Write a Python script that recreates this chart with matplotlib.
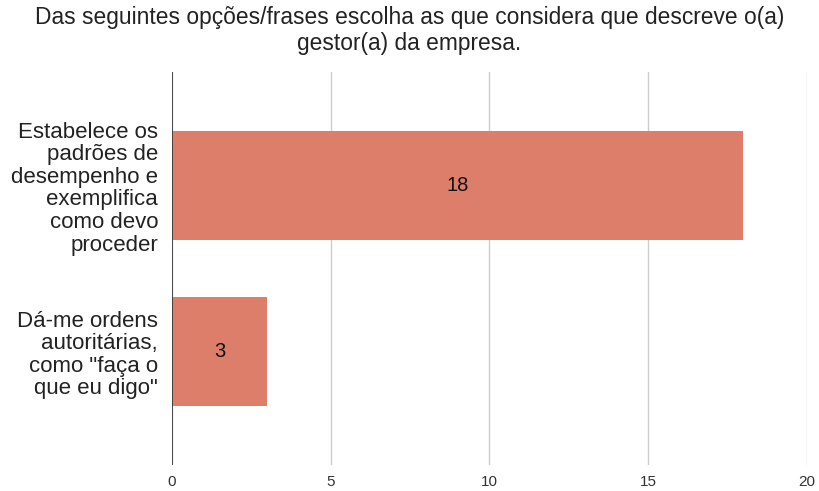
import matplotlib.pyplot as plt

plt.rcParams['font.family'] = ['Liberation Sans', 'DejaVu Sans']

categories = ['Estabelece os\npadrões de\ndesempenho e\nexemplifica\ncomo devo\nproceder',
              'Dá-me ordens\nautoritárias,\ncomo "faça o\nque eu digo"']
counts = [18, 3]
xticks = [0, 5, 10, 15, 20]
title = 'Das seguintes opções/frases escolha as que considera que descreve o(a)\ngestor(a) da empresa.'

fig = plt.figure(figsize=(8.19, 4.91), dpi=100)
ax = fig.add_axes([0.210, 0.053, 0.7753, 0.800])

pos = list(range(len(categories)))
ax.barh(pos, counts, height=0.655, color='#dd7e6b', zorder=3)
for p, v in zip(pos, counts):
    ax.text(v / 2, p, str(v), ha='center', va='center', fontsize=14.5, color='#111111', zorder=4)

ax.set_xlim(0, 20)
ax.set_ylim(1.68, -0.68)
ax.set_xticks(xticks)
ax.set_yticks(pos)
ax.set_yticklabels(categories, fontsize=16, linespacing=1.1, color='#222222')
ax.tick_params(axis='x', length=0, labelsize=11, colors='#333333', pad=7)
ax.tick_params(axis='y', length=0, pad=10)
ax.grid(axis='x', color='#cccccc', linewidth=1, zorder=0)
for s in ax.spines.values():
    s.set_visible(False)
ax.axvline(0, color='#333333', linewidth=1.2, zorder=5)

fig.text(0.5, 0.988, title, ha='center', va='top', fontsize=16.4, linespacing=1.18, color='#222222')

fig.savefig('out.png', dpi=100)
